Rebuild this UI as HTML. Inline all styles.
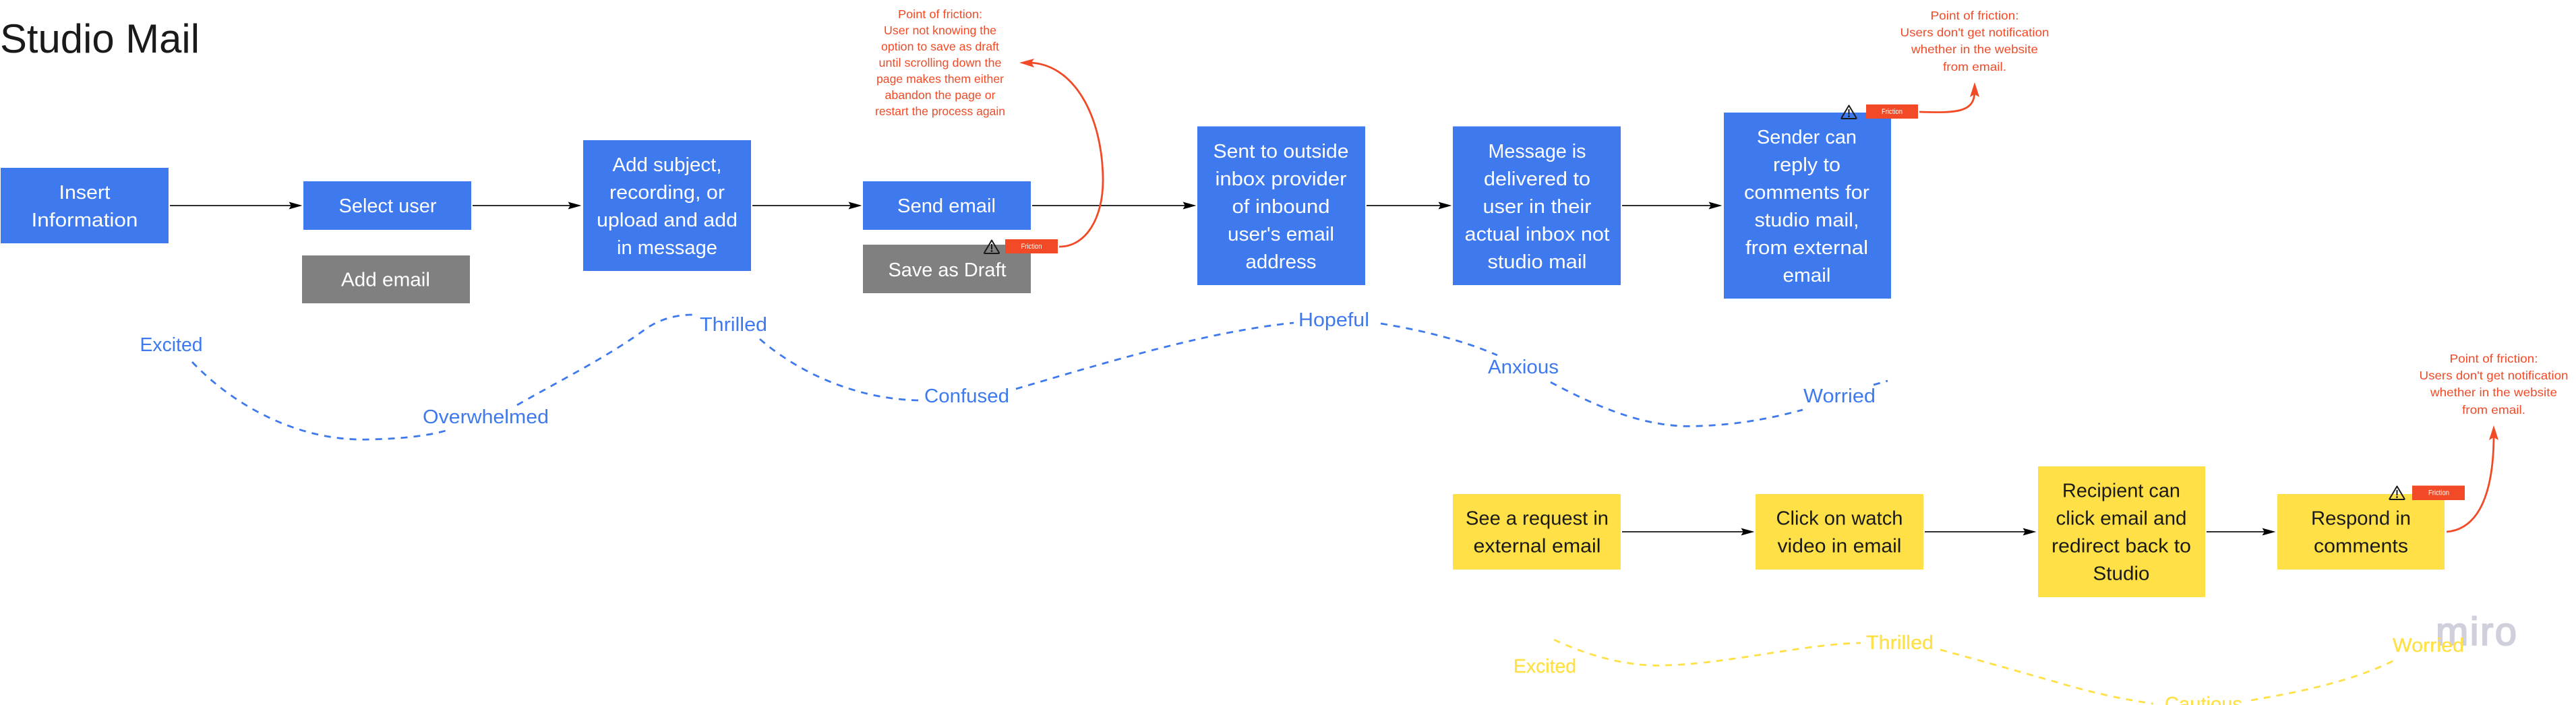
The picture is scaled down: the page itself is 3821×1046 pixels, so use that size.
<!DOCTYPE html>
<html lang="en">
<head>
<meta charset="utf-8">
<title>Studio Mail</title>
<style>
html,body{margin:0;padding:0;background:#fff;width:3821px;height:1046px;overflow:hidden}
svg{display:block}
text{font-family:"Liberation Sans",sans-serif}
.w{fill:#fff;font-size:29px;text-anchor:middle}
.k{fill:#1a1a1a;font-size:29px;text-anchor:middle}
.b{fill:#3e79ee;font-size:29px;text-anchor:middle}
.y{fill:#ffe046;font-size:29px;text-anchor:middle;stroke:#ffe046;stroke-width:.3}
.r{fill:#f24a26;font-size:17.5px;text-anchor:middle}
.f{fill:#fff;font-size:11px;text-anchor:middle}
.arr{stroke:#111;stroke-width:1.7;fill:none;marker-end:url(#ah)}
.db{stroke:#3e79ee;stroke-width:2.8;fill:none;stroke-dasharray:10 9}
.dy{stroke:#ffe046;stroke-width:2.8;fill:none;stroke-dasharray:10 9}
.rc{stroke:#f24a26;stroke-width:2.8;fill:none}
.tri{fill:none;stroke:#1a1a1a;stroke-width:2;stroke-linejoin:round}
</style>
</head>
<body>
<svg xmlns="http://www.w3.org/2000/svg" width="3821" height="1046" viewBox="0 0 3821 1046">
<defs>
<marker id="ah" markerUnits="userSpaceOnUse" markerWidth="20" markerHeight="12" refX="14" refY="5" orient="auto" viewBox="0 0 18 10">
<path d="M0,0 L18,5 L0,10 L3,5 Z" fill="#000"/>
</marker>
</defs>
<rect width="3821" height="1046" fill="#fff"/>

<text x="0" y="78" font-size="60" fill="#1a1a1a" textLength="296" lengthAdjust="spacingAndGlyphs">Studio Mail</text>

<!-- blue boxes -->
<g fill="#3e79ee">
<rect x="1" y="249" width="249" height="112"/>
<rect x="450" y="269" width="249" height="72"/>
<rect x="865" y="208" width="249" height="194"/>
<rect x="1280" y="269" width="249" height="72"/>
<rect x="1776" y="187.5" width="249" height="235.5"/>
<rect x="2155" y="187.5" width="249" height="235.5"/>
<rect x="2557" y="167" width="248" height="276"/>
</g>
<g fill="#808080">
<rect x="448" y="379" width="249" height="71"/>
<rect x="1280" y="363" width="249" height="72"/>
</g>
<!-- yellow boxes -->
<g fill="#ffe046">
<rect x="2155" y="733" width="249" height="112"/>
<rect x="2604" y="733" width="249" height="112"/>
<rect x="3023" y="692" width="248" height="194"/>
<rect x="3378" y="733" width="248" height="112"/>
</g>

<!-- box text -->
<text class="w" x="125.5" y="295" textLength="76" lengthAdjust="spacingAndGlyphs">Insert</text>
<text class="w" x="125.5" y="336" textLength="158" lengthAdjust="spacingAndGlyphs">Information</text>
<text class="w" x="575" y="315" textLength="145" lengthAdjust="spacingAndGlyphs">Select user</text>
<text class="w" x="572" y="424.5" textLength="132" lengthAdjust="spacingAndGlyphs">Add email</text>
<text class="w" x="989.5" y="254" textLength="162" lengthAdjust="spacingAndGlyphs">Add subject,</text>
<text class="w" x="989.5" y="295" textLength="171" lengthAdjust="spacingAndGlyphs">recording, or</text>
<text class="w" x="989.5" y="336" textLength="209" lengthAdjust="spacingAndGlyphs">upload and add</text>
<text class="w" x="989.5" y="377" textLength="149" lengthAdjust="spacingAndGlyphs">in message</text>
<text class="w" x="1404" y="315" textLength="146" lengthAdjust="spacingAndGlyphs">Send email</text>
<text class="w" x="1405" y="410" textLength="175" lengthAdjust="spacingAndGlyphs">Save as Draft</text>
<text class="w" x="1900" y="234" textLength="201" lengthAdjust="spacingAndGlyphs">Sent to outside</text>
<text class="w" x="1900" y="275" textLength="195" lengthAdjust="spacingAndGlyphs">inbox provider</text>
<text class="w" x="1900" y="316" textLength="145" lengthAdjust="spacingAndGlyphs">of inbound</text>
<text class="w" x="1900" y="357" textLength="158" lengthAdjust="spacingAndGlyphs">user's email</text>
<text class="w" x="1900" y="398" textLength="105" lengthAdjust="spacingAndGlyphs">address</text>
<text class="w" x="2280" y="234" textLength="145" lengthAdjust="spacingAndGlyphs">Message is</text>
<text class="w" x="2280" y="275" textLength="158" lengthAdjust="spacingAndGlyphs">delivered to</text>
<text class="w" x="2280" y="316" textLength="161" lengthAdjust="spacingAndGlyphs">user in their</text>
<text class="w" x="2280" y="357" textLength="215" lengthAdjust="spacingAndGlyphs">actual inbox not</text>
<text class="w" x="2280" y="398" textLength="147" lengthAdjust="spacingAndGlyphs">studio mail</text>
<text class="w" x="2680" y="213" textLength="148" lengthAdjust="spacingAndGlyphs">Sender can</text>
<text class="w" x="2680" y="254" textLength="100" lengthAdjust="spacingAndGlyphs">reply to</text>
<text class="w" x="2680" y="295" textLength="186" lengthAdjust="spacingAndGlyphs">comments for</text>
<text class="w" x="2680" y="336" textLength="155" lengthAdjust="spacingAndGlyphs">studio mail,</text>
<text class="w" x="2680" y="377" textLength="182" lengthAdjust="spacingAndGlyphs">from external</text>
<text class="w" x="2680" y="418" textLength="71" lengthAdjust="spacingAndGlyphs">email</text>

<text class="k" x="2280" y="778.5" textLength="212" lengthAdjust="spacingAndGlyphs">See a request in</text>
<text class="k" x="2280" y="819.5" textLength="189" lengthAdjust="spacingAndGlyphs">external email</text>
<text class="k" x="2728.5" y="778.5" textLength="188" lengthAdjust="spacingAndGlyphs">Click on watch</text>
<text class="k" x="2728.5" y="819.5" textLength="184" lengthAdjust="spacingAndGlyphs">video in email</text>
<text class="k" x="3146.5" y="737.5" textLength="175" lengthAdjust="spacingAndGlyphs">Recipient can</text>
<text class="k" x="3146.5" y="778.5" textLength="194" lengthAdjust="spacingAndGlyphs">click email and</text>
<text class="k" x="3146.5" y="819.5" textLength="207" lengthAdjust="spacingAndGlyphs">redirect back to</text>
<text class="k" x="3146.5" y="860.5" textLength="84" lengthAdjust="spacingAndGlyphs">Studio</text>
<text class="k" x="3502" y="778.5" textLength="148" lengthAdjust="spacingAndGlyphs">Respond in</text>
<text class="k" x="3502" y="819.5" textLength="140" lengthAdjust="spacingAndGlyphs">comments</text>

<!-- black arrows -->
<line class="arr" x1="252" y1="305" x2="444" y2="305"/>
<line class="arr" x1="701" y1="305" x2="858" y2="305"/>
<line class="arr" x1="1116" y1="305" x2="1274" y2="305"/>
<line class="arr" x1="1531" y1="305" x2="1770" y2="305"/>
<line class="arr" x1="2027" y1="305" x2="2149" y2="305"/>
<line class="arr" x1="2406" y1="305" x2="2550" y2="305"/>
<line class="arr" x1="2406" y1="789" x2="2598" y2="789"/>
<line class="arr" x1="2855" y1="789" x2="3016" y2="789"/>
<line class="arr" x1="3273" y1="789" x2="3371" y2="789"/>

<!-- red curves -->
<path class="rc" d="M1571,366 C1612,366 1636,322 1636,268 C1636,172 1592,93 1525,93"/>
<polygon points="1512,93 1534,87 1530,93 1534,100" fill="#f24a26"/>
<path class="rc" d="M2847,166 C2905,168 2929,166 2929,135"/>
<polygon points="2929,122 2936,144 2929,140 2922,144" fill="#f24a26"/>
<path class="rc" d="M3629,789 C3682,785 3699,720 3699,645"/>
<polygon points="3699,631 3706,653 3699,649 3692,653" fill="#f24a26"/>

<!-- friction badges -->
<g fill="#f24a26">
<rect x="1491" y="355" width="78" height="21"/>
<rect x="2768" y="155" width="77" height="21"/>
<rect x="3578" y="720.5" width="78" height="21.5"/>
</g>
<text class="f" x="1530" y="369" textLength="31" lengthAdjust="spacingAndGlyphs">Friction</text>
<text class="f" x="2806.5" y="169" textLength="31" lengthAdjust="spacingAndGlyphs">Friction</text>
<text class="f" x="3617.5" y="734.5" textLength="31" lengthAdjust="spacingAndGlyphs">Friction</text>

<!-- warning icons -->
<g>
<path class="tri" d="M1471,356.5 L1482,375 Q1482.5,376 1481,376 L1461,376 Q1459.5,376 1460,375 Z"/>
<rect x="1470" y="362" width="2" height="8" fill="#1a1a1a"/><circle cx="1471" cy="372.5" r="1.4" fill="#1a1a1a"/>
</g>
<g>
<path class="tri" d="M2742.5,156.5 L2753.5,175 Q2754,176 2752.5,176 L2732.5,176 Q2731,176 2731.5,175 Z"/>
<rect x="2741.5" y="162" width="2" height="8" fill="#1a1a1a"/><circle cx="2742.5" cy="172.5" r="1.4" fill="#1a1a1a"/>
</g>
<g>
<path class="tri" d="M3555.5,721.5 L3566.5,740 Q3567,741 3565.5,741 L3545.5,741 Q3544,741 3544.5,740 Z"/>
<rect x="3554.5" y="727" width="2" height="8" fill="#1a1a1a"/><circle cx="3555.5" cy="737.5" r="1.4" fill="#1a1a1a"/>
</g>

<!-- red notes -->
<text class="r" x="1394.5" y="27" textLength="125" lengthAdjust="spacingAndGlyphs">Point of friction:</text>
<text class="r" x="1394.5" y="51" textLength="167" lengthAdjust="spacingAndGlyphs">User not knowing the</text>
<text class="r" x="1394.5" y="75" textLength="175" lengthAdjust="spacingAndGlyphs">option to save as draft</text>
<text class="r" x="1394.5" y="99" textLength="182" lengthAdjust="spacingAndGlyphs">until scrolling down the</text>
<text class="r" x="1394.5" y="123" textLength="189" lengthAdjust="spacingAndGlyphs">page makes them either</text>
<text class="r" x="1394.5" y="147" textLength="164" lengthAdjust="spacingAndGlyphs">abandon the page or</text>
<text class="r" x="1394.5" y="171" textLength="193" lengthAdjust="spacingAndGlyphs">restart the process again</text>

<text class="r" x="2929" y="29" textLength="131" lengthAdjust="spacingAndGlyphs">Point of friction:</text>
<text class="r" x="2929" y="54" textLength="221" lengthAdjust="spacingAndGlyphs">Users don't get notification</text>
<text class="r" x="2929" y="79" textLength="188" lengthAdjust="spacingAndGlyphs">whether in the website</text>
<text class="r" x="2929" y="105" textLength="94" lengthAdjust="spacingAndGlyphs">from email.</text>

<text class="r" x="3699" y="538" textLength="131" lengthAdjust="spacingAndGlyphs">Point of friction:</text>
<text class="r" x="3699" y="563" textLength="221" lengthAdjust="spacingAndGlyphs">Users don't get notification</text>
<text class="r" x="3699" y="588" textLength="188" lengthAdjust="spacingAndGlyphs">whether in the website</text>
<text class="r" x="3699" y="614" textLength="94" lengthAdjust="spacingAndGlyphs">from email.</text>

<!-- blue journey -->
<path class="db" d="M285,537 C345,600 440,655 547,652 C590,651 630,648 665,638"/>
<path class="db" d="M767,601 C830,565 900,530 955,490 C975,475 1000,467 1027,467"/>
<path class="db" d="M1127,503 C1175,545 1260,592 1363,594"/>
<path class="db" d="M1507,577 C1640,538 1790,492 1919,479"/>
<path class="db" d="M2048,480 C2110,490 2170,505 2221,527"/>
<path class="db" d="M2300,567 C2380,610 2450,636 2521,632 C2580,630 2630,620 2674,608"/>
<path class="db" d="M2779,571 L2800,565"/>
<text class="b" x="254" y="521" textLength="93" lengthAdjust="spacingAndGlyphs">Excited</text>
<text class="b" x="720.5" y="628" textLength="187" lengthAdjust="spacingAndGlyphs">Overwhelmed</text>
<text class="b" x="1088" y="491" textLength="100" lengthAdjust="spacingAndGlyphs">Thrilled</text>
<text class="b" x="1434" y="597" textLength="126" lengthAdjust="spacingAndGlyphs">Confused</text>
<text class="b" x="1978.5" y="484" textLength="105" lengthAdjust="spacingAndGlyphs">Hopeful</text>
<text class="b" x="2259.5" y="554" textLength="105" lengthAdjust="spacingAndGlyphs">Anxious</text>
<text class="b" x="2728.5" y="597" textLength="107" lengthAdjust="spacingAndGlyphs">Worried</text>

<!-- miro mark -->
<text x="3613" y="957" font-size="58" fill="#cfd0dc" stroke="#cfd0dc" stroke-width="2" textLength="120" lengthAdjust="spacing">miro</text>

<!-- yellow journey -->
<path class="dy" d="M2305,949 C2360,975 2420,990 2473,987 C2560,985 2680,955 2760,954"/>
<path class="dy" d="M2878,964 C2930,978 2990,995 3050,1012 C3100,1027 3150,1038 3194,1044"/>
<path class="dy" d="M3339,1039 C3420,1025 3490,1010 3551,980"/>
<text class="y" x="2291.5" y="998" textLength="93" lengthAdjust="spacingAndGlyphs">Excited</text>
<text class="y" x="2818" y="963" textLength="100" lengthAdjust="spacingAndGlyphs">Thrilled</text>
<text class="y" x="3268.5" y="1054" textLength="115" lengthAdjust="spacingAndGlyphs">Cautious</text>
<text class="y" x="3602" y="967" textLength="106" lengthAdjust="spacingAndGlyphs">Worried</text>
</svg>
</body>
</html>
